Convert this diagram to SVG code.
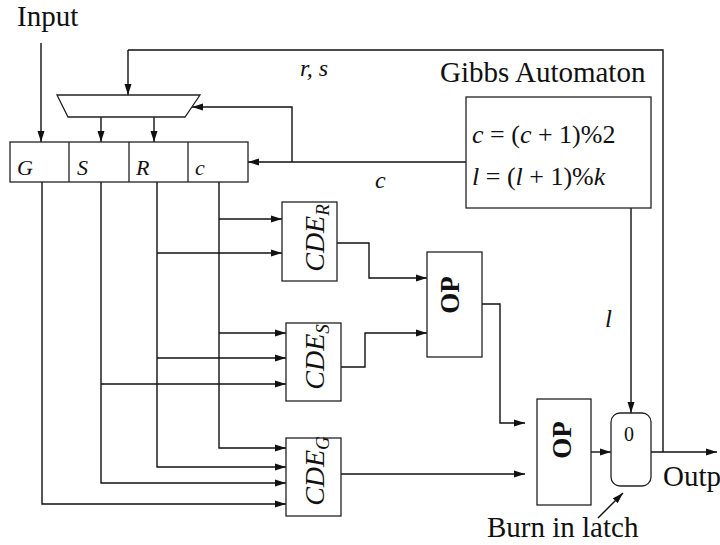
<svg xmlns="http://www.w3.org/2000/svg" width="720" height="545" viewBox="0 0 720 545">
<style>
.box{fill:none;stroke:#222;stroke-width:1.3}
.ln{fill:none;stroke:#111;stroke-width:1.4}
.arr{marker-end:url(#ah)}
.rm{font-family:"Liberation Serif","Times New Roman",serif;fill:#111}
.mi{font-family:"Liberation Serif","Times New Roman",serif;font-style:italic;fill:#111}
.bd{font-family:"Liberation Serif","Times New Roman",serif;font-weight:bold;fill:#111}
</style>
<defs>
<marker id="ah" markerUnits="userSpaceOnUse" markerWidth="12" markerHeight="8" refX="11" refY="4" orient="auto">
<path d="M0,0.5 L11,4 L0,7.5 Z" fill="#111"/>
</marker>
</defs>
<rect width="720" height="545" fill="#fff"/>

<g id="connectors">
<path class="ln arr" d="M41,43 V142"/>
<path class="ln" d="M663,452 V50 H128"/>
<path class="ln arr" d="M128,50 V95"/>
<path class="ln arr" d="M466,162 H248"/>
<path class="ln arr" d="M292,162 V107 H192"/>
<path class="ln arr" d="M101,117 V142"/>
<path class="ln arr" d="M154,117 V142"/>
<path class="ln arr" d="M42,182 V504 H286"/>
<path class="ln arr" d="M101,182 V483 H286"/>
<path class="ln arr" d="M157,182 V467 H286"/>
<path class="ln arr" d="M219,182 V448 H286"/>
<path class="ln arr" d="M219,219 H282"/>
<path class="ln arr" d="M157,253 H282"/>
<path class="ln arr" d="M219,333 H286"/>
<path class="ln arr" d="M157,358 H286"/>
<path class="ln arr" d="M101,384 H286"/>
<path class="ln arr" d="M337,243 H369 V278 H427"/>
<path class="ln arr" d="M341,367 H365 V333 H427"/>
<path class="ln arr" d="M482,304 H500 V423 H525"/>
<path class="ln arr" d="M341,474 H525"/>
<path class="ln arr" d="M591,452 H611"/>
<path class="ln arr" d="M631,208 V413"/>
<path class="ln arr" d="M651,452 H717"/>
<path class="ln arr" d="M598,518 L623,493"/>
</g>

<g id="labels">
<text class="rm" x="17" y="26" font-size="29">Input</text>
<text class="mi" x="300" y="76" font-size="24">r, s</text>
<text class="mi" x="375" y="188" font-size="24">c</text>
<text class="mi" x="605" y="327" font-size="25">l</text>
<text class="rm" x="663" y="486" font-size="29">Output</text>
<text class="rm" x="487" y="537" font-size="29">Burn in latch</text>
</g>

<g id="selector">
<polygon class="box" points="57,95 200,95 185,117 68,117"/>
</g>

<g id="register">
<rect class="box" x="10" y="142" width="238" height="40"/>
<path class="box" d="M69,142 V182 M129,142 V182 M188,142 V182"/>
<text class="mi" x="17" y="175" font-size="22">G</text>
<text class="mi" x="77" y="175" font-size="22">S</text>
<text class="mi" x="136" y="175" font-size="22">R</text>
<text class="mi" x="195" y="175" font-size="22">c</text>
</g>

<g id="gibbs">
<text class="rm" x="440" y="82" font-size="29">Gibbs Automaton</text>
<rect class="box" x="466" y="97" width="185" height="111"/>
<text class="rm" x="472" y="143" font-size="26"><tspan class="mi">c</tspan> = (<tspan class="mi">c</tspan> + 1)%2</text>
<text class="rm" x="472" y="185" font-size="26"><tspan class="mi">l</tspan> = (<tspan class="mi">l</tspan> + 1)%<tspan class="mi">k</tspan></text>
</g>

<g id="cde-r">
<rect class="box" x="282" y="202" width="55" height="79"/>
<text class="mi" transform="translate(324,238) rotate(-90)" text-anchor="middle" font-size="28">CDE<tspan font-size="19" dy="5">R</tspan></text>
</g>

<g id="cde-s">
<rect class="box" x="286" y="323" width="55" height="78"/>
<text class="mi" transform="translate(324,357) rotate(-90)" text-anchor="middle" font-size="28">CDE<tspan font-size="19" dy="5">S</tspan></text>
</g>

<g id="cde-g">
<rect class="box" x="286" y="438" width="55" height="78"/>
<text class="mi" transform="translate(324,471) rotate(-90)" text-anchor="middle" font-size="28">CDE<tspan font-size="19" dy="5">G</tspan></text>
</g>

<g id="op1">
<rect class="box" x="427" y="252" width="55" height="105"/>
<text class="bd" transform="translate(459,295) rotate(-90)" text-anchor="middle" font-size="27">OP</text>
</g>

<g id="op2">
<rect class="box" x="537" y="399" width="54" height="106"/>
<text class="bd" transform="translate(571,440) rotate(-90)" text-anchor="middle" font-size="27">OP</text>
</g>

<g id="latch">
<rect class="box" x="611" y="413" width="40" height="73" rx="9"/>
<text class="rm" x="629" y="441" font-size="20" text-anchor="middle">0</text>
</g>
</svg>
